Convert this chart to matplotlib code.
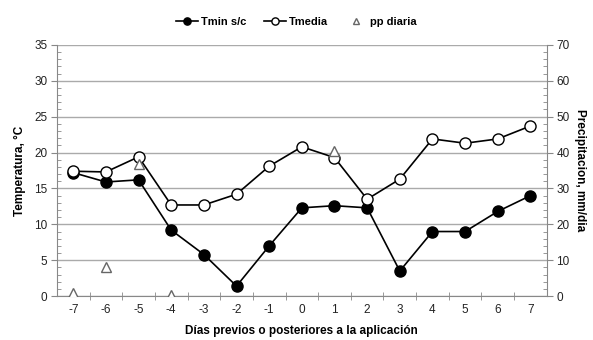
import matplotlib
matplotlib.use("Agg")
import matplotlib.pyplot as plt
from matplotlib.ticker import MultipleLocator
import numpy as np

plt.rcParams['font.family'] = ['Liberation Sans', 'DejaVu Sans']
plt.rcParams['axes.unicode_minus'] = False

dias = [-7, -6, -5, -4, -3, -2, -1, 0, 1, 2, 3, 4, 5, 6, 7]
tmin = [17.2, 15.9, 16.2, 9.2, 5.8, 1.4, 7.0, 12.3, 12.6, 12.3, 3.5, 9.0, 9.0, 11.8, 14.0]
tmedia = [17.4, 17.3, 19.4, 12.7, 12.7, 14.2, 18.1, 20.8, 19.3, 13.5, 16.3, 21.9, 21.3, 21.9, 23.7]
pp_dias = [-7, -6, -5, -4, 1]
pp = [0.8, 8.0, 36.8, 0.2, 40.3]

fig = plt.figure(figsize=(5.93, 3.4), dpi=100)
ax = fig.add_axes([0.096, 0.129, 0.826, 0.739])
ax2 = ax.twinx()

gray = '#888888'
ax.set_xlim(-7.5, 7.5)
ax.set_ylim(0, 35)
ax2.set_ylim(0, 70)
ax.yaxis.set_major_locator(MultipleLocator(5))
ax.yaxis.set_minor_locator(MultipleLocator(1))
ax2.yaxis.set_major_locator(MultipleLocator(10))
ax2.yaxis.set_minor_locator(MultipleLocator(2))
ax.set_xticks(dias)
ax.set_xticks(np.arange(-6.5, 7.0, 1.0), minor=True)
ax.grid(axis='y', color='#aaaaaa', linewidth=1.0)
ax.set_axisbelow(True)

for a in (ax, ax2):
    for s in a.spines.values():
        s.set_color(gray)
    a.spines['top'].set_visible(False)
ax.spines['right'].set_visible(False)
ax2.spines['left'].set_visible(False)
ax2.spines['bottom'].set_visible(False)

txtc = '#222222'
ax.tick_params(axis='y', which='major', direction='out', length=4, color=gray, labelsize=8.5, pad=3, labelcolor=txtc)
ax.tick_params(axis='y', which='minor', direction='in', length=3, color=gray)
ax2.tick_params(axis='y', which='major', direction='out', length=4, color=gray, labelsize=8.5, pad=3, labelcolor=txtc)
ax2.tick_params(axis='y', which='minor', direction='in', length=3, color=gray)
ax.tick_params(axis='x', which='major', length=0, labelsize=8.5, pad=6, labelcolor=txtc)
ax.tick_params(axis='x', which='minor', direction='inout', length=6, color=gray)

l1, = ax.plot(dias, tmin, '-o', color='black', markerfacecolor='black', markeredgecolor='black',
              markersize=8, linewidth=1.2, label='Tmin s/c', zorder=4)
l2, = ax.plot(dias, tmedia, '-o', color='black', markerfacecolor='white', markeredgecolor='black',
              markersize=8, linewidth=1.2, label='Tmedia', zorder=4)
l3, = ax2.plot(pp_dias, pp, '^', linestyle='none', markerfacecolor='white', markeredgecolor='#666666',
               markersize=7, markeredgewidth=1.0, label='pp diaria', zorder=5)
ax2.set_zorder(ax.get_zorder() + 1)
ax2.patch.set_visible(False)

ax.set_ylabel('Temperatura, °C', fontsize=8.5, fontweight='bold', labelpad=6)
ax2.set_ylabel('Precipitacion, mm/dia', fontsize=8.5, fontweight='bold', rotation=270, labelpad=12)
ax.set_xlabel('Días previos o posteriores a la aplicación', fontsize=8.5, fontweight='bold', labelpad=6)

fig.legend(handles=[l1, l2, l3], loc='center', bbox_to_anchor=(0.5, 0.935), ncol=3, frameon=False,
           prop={'weight': 'bold', 'size': 8}, handlelength=2.0, handletextpad=0.3, columnspacing=1.5,
           markerscale=0.65)

fig.savefig('out.png', dpi=100)
